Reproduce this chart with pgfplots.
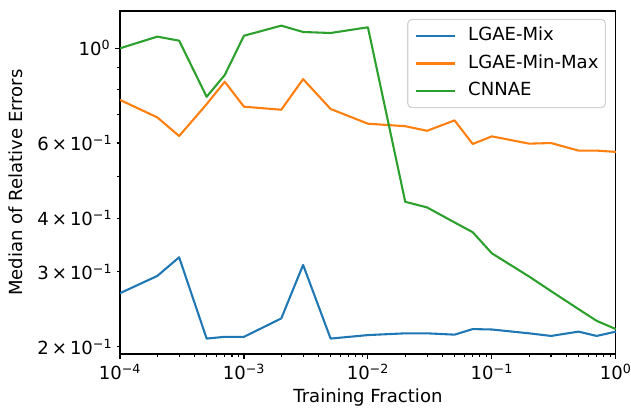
\documentclass[border=0pt]{standalone}
\usepackage{fontspec}
\setmainfont{DejaVu Sans}
\usepackage{pgfplots}
\pgfplotsset{compat=1.18}
\definecolor{c0}{HTML}{1F77B4}
\definecolor{c1}{HTML}{FF7F0E}
\definecolor{c2}{HTML}{2CA02C}
\newcommand{\tl}[1]{10\textsuperscript{#1}}
\begin{document}
\begin{tikzpicture}
\begin{axis}[
  scale only axis, width=357pt, height=247pt,
  xmode=log, ymode=log,
  xmin=1e-4, xmax=1, ymin=0.1923, ymax=1.223,
  axis line style={line width=0.8pt},
  tick align=outside, xtick pos=left, ytick pos=left,
  major tick length=3.5pt, minor tick length=2pt,
  every tick/.style={black, line width=0.8pt},
  xtick={1e-4,1e-3,1e-2,1e-1,1},
  xticklabels={\tl{−4},\tl{−3},\tl{−2},\tl{−1},\tl{0}},
  minor xtick={2e-4,3e-4,4e-4,5e-4,6e-4,7e-4,8e-4,9e-4,
               2e-3,3e-3,4e-3,5e-3,6e-3,7e-3,8e-3,9e-3,
               2e-2,3e-2,4e-2,5e-2,6e-2,7e-2,8e-2,9e-2,
               2e-1,3e-1,4e-1,5e-1,6e-1,7e-1,8e-1,9e-1},
  ytick={1}, yticklabels={\tl{0}},
  extra y ticks={0.2,0.3,0.4,0.6},
  extra y tick labels={2\,×\,\tl{−1},3\,×\,\tl{−1},4\,×\,\tl{−1},6\,×\,\tl{−1}},
  extra y tick style={major tick length=2pt},
  minor ytick={0.5,0.7,0.8,0.9},
  tick label style={font=\fontsize{13}{15}\selectfont},
  label style={font=\fontsize{13}{15}\selectfont},
  xlabel={Training Fraction},
  ylabel={Median of Relative Errors},
  legend cell align=left,
  legend image code/.code={\draw[#1, line width=1.5pt] (0pt,0pt) -- (28pt,0pt);},
  legend style={at={(axis description cs:0.98,0.977)}, anchor=north east,
    draw=black!18, line width=0.8pt, rounded corners=3pt,
    font=\fontsize{13}{15}\selectfont,
    inner xsep=5pt, inner ysep=6pt, row sep=7pt,
    nodes={inner sep=0pt, text height=9.5pt, text depth=3pt},
    /tikz/every odd column/.append style={column sep=9pt}},
  every axis plot/.append style={line width=1.5pt, line join=round},
]
\addplot[c0] coordinates {
 (1e-4,0.267)(2e-4,0.293)(3e-4,0.324)(5e-4,0.209)(7e-4,0.211)(1e-3,0.211)
 (2e-3,0.233)(3e-3,0.311)(5e-3,0.209)(1e-2,0.213)(2e-2,0.215)(3e-2,0.215)
 (5e-2,0.2135)(7e-2,0.220)(1e-1,0.2195)(2e-1,0.215)(3e-1,0.212)(5e-1,0.217)
 (7e-1,0.212)(1,0.217)};
\addlegendentry{LGAE-Mix}
\addplot[c1] coordinates {
 (1e-4,0.757)(2e-4,0.689)(3e-4,0.623)(5e-4,0.740)(7e-4,0.835)(1e-3,0.730)
 (2e-3,0.718)(3e-3,0.847)(5e-3,0.721)(1e-2,0.666)(2e-2,0.657)(3e-2,0.641)
 (5e-2,0.678)(7e-2,0.597)(1e-1,0.622)(2e-1,0.598)(3e-1,0.600)(5e-1,0.576)
 (7e-1,0.576)(1,0.572)};
\addlegendentry{LGAE-Min-Max}
\addplot[c2] coordinates {
 (1e-4,1.0)(2e-4,1.065)(3e-4,1.042)(5e-4,0.770)(7e-4,0.866)(1e-3,1.070)
 (2e-3,1.130)(3e-3,1.092)(5e-3,1.086)(1e-2,1.12)(2e-2,0.437)(3e-2,0.424)
 (5e-2,0.391)(7e-2,0.371)(1e-1,0.331)(2e-1,0.292)(3e-1,0.270)(5e-1,0.245)
 (7e-1,0.230)(1,0.220)};
\addlegendentry{CNNAE}
\end{axis}
\pgfresetboundingbox
\path (-86.4pt,-41.0pt) rectangle (367.9pt,254.9pt);
\end{tikzpicture}
\end{document}
